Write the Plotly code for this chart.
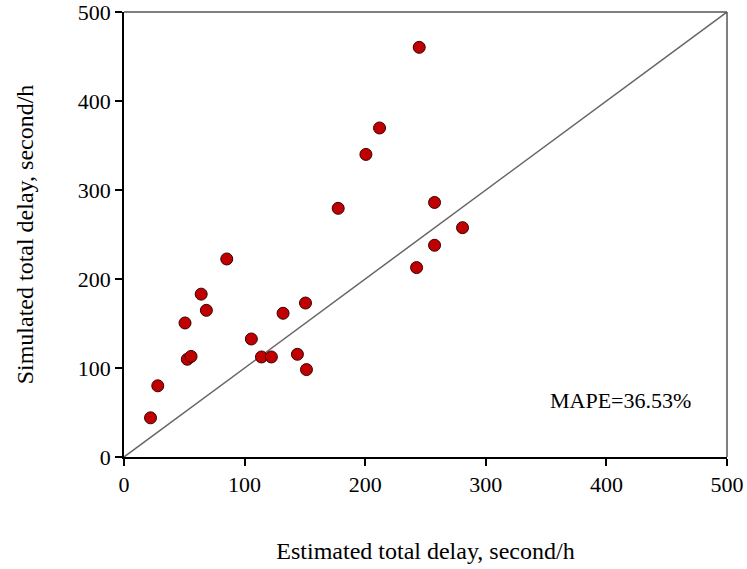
import plotly.graph_objects as go

estimated = [22, 28, 50.6, 52.5, 55.6, 64, 68.3, 85.2, 105.6, 114, 122.2, 131.9,
             143.8, 150.5, 151.3, 242.6, 257.5, 244.8, 211.9, 200.6, 177.6, 257.5, 280.7]
simulated = [44, 80, 150.6, 109.8, 113, 183, 164.8, 222.5, 132.6, 112.4, 112.4, 161.5,
             115.4, 173, 98.2, 212.8, 237.9, 460.3, 369.7, 340, 279.4, 286, 257.7]
line_x = [0, 500]
line_y = [0, 500]
tick_vals = [0, 100, 200, 300, 400, 500]

FONT = "Liberation Serif, Times New Roman, serif"

fig = go.Figure()
fig.add_trace(go.Scatter(x=line_x, y=line_y, mode="lines",
                         line=dict(color="#666666", width=1.5),
                         showlegend=False, hoverinfo="skip", cliponaxis=False))
fig.add_trace(go.Scatter(x=estimated, y=simulated, mode="markers",
                         marker=dict(size=12, color="#C00000",
                                     line=dict(color="#3a0000", width=1)),
                         showlegend=False))

fig.add_shape(type="line", xref="paper", yref="paper", x0=0, x1=1, y0=1, y1=1,
              line=dict(color="#555555", width=1.5))
fig.add_shape(type="line", xref="paper", yref="paper", x0=1, x1=1, y0=0, y1=1,
              line=dict(color="#555555", width=1.5))

fig.add_annotation(x=412, y=64, text="MAPE=36.53%", showarrow=False,
                   font=dict(family=FONT, size=22, color="black"))

axis_common = dict(range=[0, 500], tickvals=tick_vals, showgrid=False, zeroline=False,
                   showline=True, linecolor="black", linewidth=1.5, automargin=False,
                   ticks="outside", ticklen=7, tickcolor="black", tickwidth=1.5,
                   ticklabeloverflow="allow",
                   tickfont=dict(family=FONT, size=22, color="black"))

fig.update_xaxes(**axis_common,
                 title=dict(text="Estimated total delay, second/h",
                            font=dict(family=FONT, size=24, color="black"),
                            standoff=46))
fig.update_yaxes(**axis_common,
                 title=dict(text="Simulated total delay, second/h",
                            font=dict(family=FONT, size=24, color="black"),
                            standoff=37))

fig.update_layout(width=747, height=569, plot_bgcolor="white", paper_bgcolor="white",
                  margin=dict(l=124, r=20, t=12, b=112))

fig.write_html("out.html", config={"displayModeBar": False},
               post_script="document.body.style.margin='0px';")
